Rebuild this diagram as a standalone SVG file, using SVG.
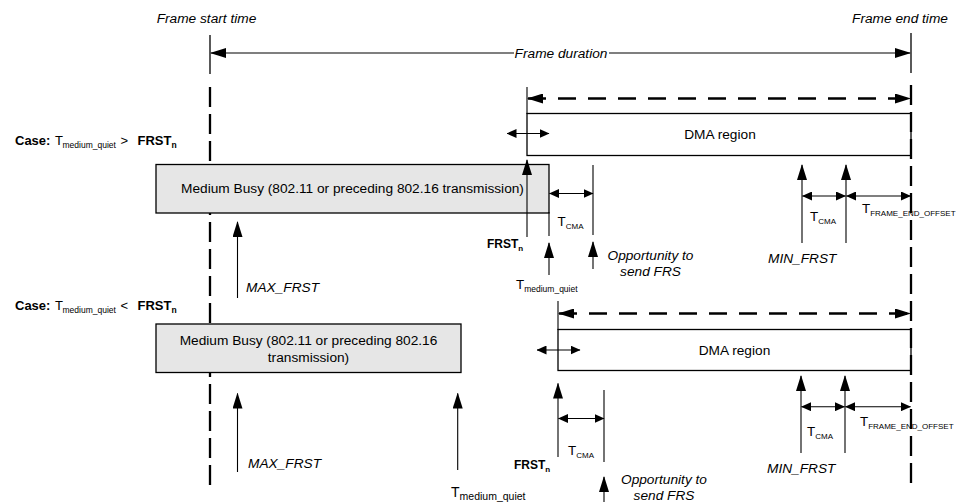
<svg xmlns="http://www.w3.org/2000/svg" width="956" height="502" viewBox="0 0 956 502">
<style>
text{font-family:"Liberation Sans",Arial,sans-serif;font-size:13.7px;fill:#000}
.it{font-style:italic}
.b{font-weight:bold}
.sub{font-size:8px}
.subq{font-size:8.5px}
.lbl{font-size:12px}
.tl{font-size:13.4px}
.case{font-size:13px}
.ln{stroke:#000;stroke-width:1.1;fill:none}
.frame{stroke:#000;stroke-width:1.3;fill:none}
.fdash{stroke:#000;stroke-width:2.3;fill:none;stroke-dasharray:20 7}
.darr{stroke:#000;stroke-width:2.5;fill:none;stroke-dasharray:18 12}
.box{stroke:#000;stroke-width:1.3}
.busy{fill:#e6e6e6}
.dma{fill:#fff}
.big{marker-start:url(#hb);marker-end:url(#hb)}
.up{marker-end:url(#hb)}
.dbl{marker-start:url(#hs);marker-end:url(#hs)}
</style>
<defs>
<marker id="hb" markerUnits="userSpaceOnUse" markerWidth="16" markerHeight="10" refX="15" refY="5" orient="auto-start-reverse" viewBox="0 0 16 10">
<path d="M0,0 L16,5 L0,10 z" fill="#000"/>
</marker>
<marker id="hs" markerUnits="userSpaceOnUse" markerWidth="10" markerHeight="9" refX="9.5" refY="4.5" orient="auto-start-reverse" viewBox="0 0 10 9">
<path d="M0,0 L10,4.5 L0,9 z" fill="#000"/>
</marker>
</defs>

<g id="frame-start">
<text class="it" x="206.5" y="23" text-anchor="middle">Frame start time</text>
<line class="frame" x1="210" y1="35" x2="210" y2="74"/>
<line class="fdash" x1="210" y1="87" x2="210" y2="492"/>
</g>

<g id="frame-end-label">
<text class="it" x="900" y="23" text-anchor="middle">Frame end time</text>
</g>

<g id="case1-dma">
<rect class="box dma" x="527" y="113.5" width="384" height="42"/>
<text x="720" y="139" text-anchor="middle">DMA region</text>
</g>

<g id="case1-busy">
<rect class="box busy" x="156" y="164.5" width="393" height="48.5"/>
<text x="352.5" y="193" text-anchor="middle">Medium Busy (802.11 or preceding 802.16 transmission)</text>
</g>

<g id="case2-dma">
<rect class="box dma" x="558" y="329.5" width="353" height="41"/>
<text x="734.5" y="355" text-anchor="middle">DMA region</text>
</g>

<g id="case2-busy">
<rect class="box busy" x="156" y="324" width="305" height="48.5"/>
<text x="308.5" y="345" text-anchor="middle">Medium Busy (802.11 or preceding 802.16</text>
<text x="308.5" y="362" text-anchor="middle">transmission)</text>
</g>

<g id="connectors">
<!-- frame duration -->
<line class="ln big" x1="211" y1="53" x2="910" y2="53"/>
<!-- case 1 -->
<line class="ln" x1="527" y1="87" x2="527" y2="114"/>
<line class="darr big" x1="528" y1="98.5" x2="910" y2="98.5"/>
<line class="ln dbl" x1="507" y1="133.5" x2="549" y2="133.5"/>
<line class="ln" x1="549" y1="212" x2="549" y2="236"/>
<line class="ln up" x1="237.5" y1="298" x2="237.5" y2="222"/>
<line class="ln up" x1="527" y1="237" x2="527" y2="160"/>
<line class="ln up" x1="549" y1="275" x2="549" y2="243"/>
<line class="ln dbl" x1="549.5" y1="193.5" x2="593" y2="193.5"/>
<line class="ln" x1="593" y1="165" x2="593" y2="235"/>
<line class="ln up" x1="593" y1="269" x2="593" y2="242"/>
<line class="ln up" x1="802" y1="243" x2="802" y2="165"/>
<line class="ln up" x1="846" y1="243" x2="846" y2="165"/>
<line class="ln dbl" x1="802.5" y1="196" x2="845.5" y2="196"/>
<line class="ln dbl" x1="846.5" y1="196" x2="910.5" y2="196"/>
<!-- case 2 -->
<line class="ln" x1="558" y1="301" x2="558" y2="330"/>
<line class="darr big" x1="559" y1="313.5" x2="910" y2="313.5"/>
<line class="ln dbl" x1="537" y1="350" x2="580" y2="350"/>
<line class="ln up" x1="237.5" y1="472" x2="237.5" y2="393.5"/>
<line class="ln up" x1="457.7" y1="470" x2="457.7" y2="393.5"/>
<line class="ln up" x1="558" y1="457" x2="558" y2="383.5"/>
<line class="ln dbl" x1="558.5" y1="418.5" x2="604" y2="418.5"/>
<line class="ln" x1="604" y1="390" x2="604" y2="462"/>
<line class="ln up" x1="604" y1="502" x2="604" y2="477"/>
<line class="ln up" x1="801" y1="453" x2="801" y2="376"/>
<line class="ln up" x1="845" y1="453" x2="845" y2="376"/>
<line class="ln dbl" x1="801.5" y1="406.7" x2="844.5" y2="406.7"/>
<line class="ln dbl" x1="845.5" y1="406.7" x2="910.5" y2="406.7"/>
</g>

<g id="frame-duration">
<rect x="514" y="45" width="95" height="15" fill="#fff"/>
<text class="it" x="561" y="57.5" text-anchor="middle">Frame duration</text>
</g>

<g id="case1-label">
<text class="case" y="145"><tspan x="15" class="b">Case:</tspan><tspan x="55">T</tspan><tspan x="62.5" class="subq" dy="3">medium_quiet</tspan><tspan x="120.5" dy="-3">&gt;</tspan><tspan x="137.5" class="b">FRST</tspan><tspan class="b subq" dy="3">n</tspan></text>
</g>

<g id="case1-labels">
<text class="it" x="246" y="292">MAX_FRST</text>
<text class="lbl b" x="487" y="247.5">FRST<tspan class="sub" dy="3">n</tspan></text>
<text class="tl" x="516" y="289">T<tspan class="subq" dy="3">medium_quiet</tspan></text>
<text class="tl" x="557.5" y="226">T<tspan class="sub" dy="3">CMA</tspan></text>
<text class="it" x="650.5" y="260" text-anchor="middle">Opportunity to</text>
<text class="it" x="650.5" y="276" text-anchor="middle">send FRS</text>
<text class="tl" x="810" y="221">T<tspan class="sub" dy="3">CMA</tspan></text>
<text class="tl" x="862" y="213">T<tspan class="sub" dy="3">FRAME_END_OFFSET</tspan></text>
<text class="it" x="768" y="263">MIN_FRST</text>
</g>

<g id="case2-label">
<text class="case" y="310"><tspan x="15" class="b">Case:</tspan><tspan x="55">T</tspan><tspan x="62.5" class="subq" dy="3">medium_quiet</tspan><tspan x="120.5" dy="-3">&lt;</tspan><tspan x="137.5" class="b">FRST</tspan><tspan class="b subq" dy="3">n</tspan></text>
</g>

<g id="case2-labels">
<text class="it" x="248" y="468">MAX_FRST</text>
<text x="451" y="497" style="font-size:14px">T<tspan dy="3" style="font-size:10.5px">medium_quiet</tspan></text>
<text class="lbl b" x="514" y="469">FRST<tspan class="sub" dy="3">n</tspan></text>
<text class="tl" x="568" y="455">T<tspan class="sub" dy="3">CMA</tspan></text>
<text class="it" x="664" y="484" text-anchor="middle">Opportunity to</text>
<text class="it" x="664" y="500" text-anchor="middle">send FRS</text>
<text class="tl" x="807" y="436">T<tspan class="sub" dy="3">CMA</tspan></text>
<text class="tl" x="860" y="426">T<tspan class="sub" dy="3">FRAME_END_OFFSET</tspan></text>
<text class="it" x="767" y="473">MIN_FRST</text>
</g>

<g id="frame-end">
<line class="frame" x1="911" y1="33" x2="911" y2="73"/>
<line class="fdash" x1="911" y1="85" x2="911" y2="490"/>
</g>
</svg>
